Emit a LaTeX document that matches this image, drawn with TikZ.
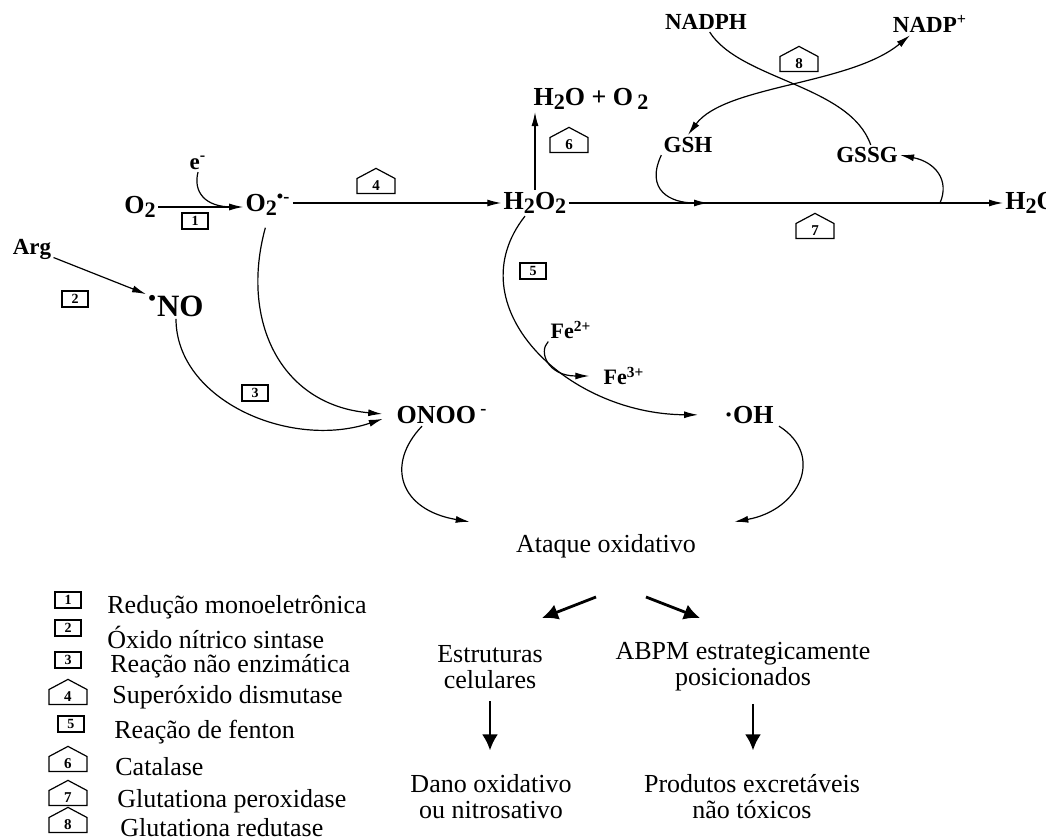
\documentclass[tikz,border=0pt]{standalone}
\usepackage{fontspec}
\usepackage{graphicx}
\setmainfont{Liberation Serif}
\usetikzlibrary{arrows.meta,shapes.symbols}
\newcommand{\dn}[1]{\raisebox{-0.35ex}{\scalebox{0.85}{#1}}}
\tikzset{
    chem/.style={
        inner sep=1pt,
        font=\fontsize{13}{15}\selectfont\bfseries
    },
    schem/.style={
        inner sep=1pt,
        font=\fontsize{11.5}{13}\selectfont\bfseries
    },
    txt/.style={
        inner sep=1pt,
        align=center,
        font=\fontsize{13}{13}\selectfont
    },
    rbox/.style={
        rectangle,
        draw,
        line width=0.6pt,
        minimum width=13pt,
        minimum height=8pt,
        inner sep=0pt,
        font=\fontsize{7}{7}\selectfont\bfseries
    },
    house/.style={
        signal,
        signal to=north,
        signal from=nowhere,
        signal pointer angle=124,
        draw,
        line width=0.6pt,
        minimum width=19pt,
        minimum height=8.5pt,
        inner sep=0pt,
        font=\fontsize{7.5}{7.5}\selectfont\bfseries
    },
    ln/.style={line width=0.6pt},
    arr/.style={-{Latex[length=7pt,width=3.5pt]},line width=0.6pt},
    dblarr/.style={{Latex[length=7pt,width=3.5pt]}-{Latex[length=7pt,width=3.5pt]},line width=0.6pt},
    bigarr/.style={-{Latex[length=8pt,width=8pt]},line width=1.4pt}
}

\begin{document}
\begin{tikzpicture}[x=0.5pt,y=-0.5pt]
\fill[white] (0,0) rectangle (1046,840);
\clip (0,0) rectangle (1046,840);

% species
\node[chem] (o2) at (140,207) {O\dn{2}};
\node[schem] (elec) at (198,163) {e\textsuperscript{-}};
\node[chem] (o2r) at (268,205) {O\dn{2}\textsuperscript{•-}};
\node[schem] (arg) at (32,249) {Arg};
\node[chem,font=\fontsize{15.5}{17}\selectfont\bfseries] (no) at (176,306) {\textsuperscript{•}NO};
\node[chem] (h2o2) at (535,203) {H\dn{2}O\dn{2}};
\node[chem] (prod) at (591,99) {H\dn{2}O + O\,\dn{2}};
\node[chem,anchor=west] (h2o) at (1003,203) {H\dn{2}O};
\node[schem] (gsh) at (688,145) {GSH};
\node[schem] (gssg) at (867,155) {GSSG};
\node[schem] (nadph) at (706,22) {NADPH};
\node[schem] (nadpp) at (930,24) {NADP\textsuperscript{+}};
\node[schem,font=\fontsize{11}{13}\selectfont\bfseries] (fe2) at (571,330) {Fe\textsuperscript{2+}};
\node[schem,font=\fontsize{11}{13}\selectfont\bfseries] (fe3) at (624,376) {Fe\textsuperscript{3+}};
\node[chem] (onoo) at (442,415) {ONOO\,\textsuperscript{-}};
\node[chem] (oh) at (749,415) {·OH};

\node[txt] (ataque) at (606,546) {Ataque oxidativo};
\node[txt] (estr) at (490,667) {Estruturas\\celulares};
\node[txt] (abpm) at (743,667) {ABPM estrategicamente\\posicionados};
\node[txt] (dano) at (491,797) {Dano oxidativo\\ou nitrosativo};
\node[txt] (excr) at (752,797) {Produtos excretáveis\\não tóxicos};

% enzymes
\node[rbox] (r1) at (195,221) {1};
\node[rbox] (r2) at (75,299) {2};
\node[rbox] (r3) at (255,393) {3};
\node[house] (r4) at (376,186) {4};
\node[rbox] (r5) at (533,271) {5};
\node[house] (r6) at (569,145) {6};
\node[house] (r7) at (815,231) {7};
\node[house] (r8) at (799,64) {8};

% legend
\node[rbox] (l1) at (68,600) {1};
\node[rbox] (l2) at (68,628) {2};
\node[rbox] (l3) at (68,660) {3};
\node[house] (l4) at (68,697) {4};
\node[rbox] (l5) at (71,724) {5};
\node[house] (l6) at (68,764) {6};
\node[house] (l7) at (68,798) {7};
\node[house] (l8) at (68,825) {8};
\node[txt,anchor=west] (t1) at (105,607) {Redução monoeletrônica};
\node[txt,anchor=west] (t2) at (105,637) {Óxido nítrico sintase};
\node[txt,anchor=west] (t3) at (108,666) {Reação não enzimática};
\node[txt,anchor=west] (t4) at (110,697) {Superóxido dismutase};
\node[txt,anchor=west] (t5) at (112,732) {Reação de fenton};
\node[txt,anchor=west] (t6) at (113,767) {Catalase};
\node[txt,anchor=west] (t7) at (115,801) {Glutationa peroxidase};
\node[txt,anchor=west] (t8) at (118,828) {Glutationa redutase};

\coordinate (j0) at (232,207);
\coordinate (j1) at (708,203);
\coordinate (j2) at (940,203);
\coordinate (a1) at (596,597);
\coordinate (a2) at (542,618);
\coordinate (b1) at (646,597);
\coordinate (b2) at (700,618);

\draw[arr] (o2.east) -- (o2.east -| o2r.west);
\draw[ln] (elec.south) .. controls (193,192) and (205,207) .. (j0);
\draw[arr] (arg) -- (no);
\draw[arr] (o2r.east |- h2o2.west) -- (h2o2.west);
\draw[arr] (h2o2.north) -- (h2o2.north |- prod.south);
\draw[arr] (h2o2.east) -- (h2o2.east -| h2o.west);

\draw[arr] (gsh.south west) .. controls (645,190) and (670,203) .. (j1);
\draw[arr] (j2) .. controls (950,180) and (935,162) .. (gssg.east);
\draw[ln] (nadph.-70) .. controls (740,80) and (850,85) .. (gssg.70);
\draw[dblarr] (gsh.north) .. controls (725,85) and (850,85) .. ([xshift=-10pt]nadpp.south);

\draw[arr,shorten <=5pt,shorten >=6pt] (o2r.south) .. controls (240,320) and (280,405) .. (onoo.west);
\draw[arr,shorten >=6pt] (no.south) .. controls (176,400) and (290,450) .. (onoo.west);
\draw[arr,shorten >=12pt] ([xshift=-5pt]h2o2.south) .. controls (455,305) and (565,414) .. (oh.west);
\draw[arr,shorten >=6pt] (fe2.south west) .. controls (538,352) and (548,376) .. (fe3.west);

\draw[arr] ([xshift=-10pt]onoo.south) .. controls (385,465) and (400,510) .. ([xshift=-22pt,yshift=5pt]ataque.north west);
\draw[arr] ([xshift=15pt]oh.south) .. controls (825,455) and (800,510) .. ([xshift=18pt,yshift=5pt]ataque.north east);

\draw[bigarr] (a1) -- (a2);
\draw[bigarr] (b1) -- (b2);
\draw[bigarr,shorten <=5pt,shorten >=11pt] (estr.south) -- (estr.south |- dano.north);
\draw[bigarr,shorten <=5pt,shorten >=11pt] ([xshift=5pt]abpm.south) -- ([xshift=5pt]abpm.south |- excr.north);
\end{tikzpicture}
\end{document}
